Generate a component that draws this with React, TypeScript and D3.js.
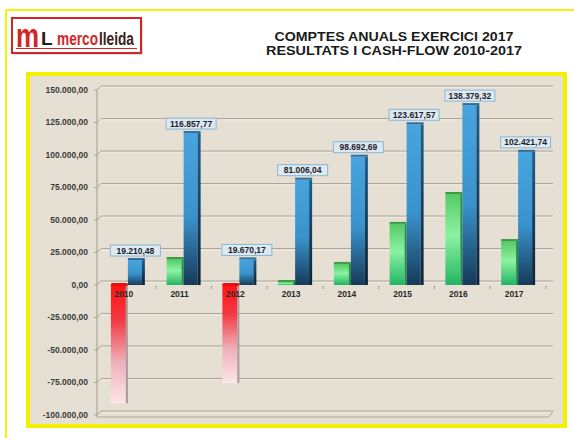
import * as d3 from 'd3';

const years = ['2010', '2011', '2012', '2013', '2014', '2015', '2016', '2017'];
// resultats (green / red bars)
const resultats = [-91000, 20000, -75500, 2300, 16200, 47000, 70000, 33800];
// cash-flow (blue bars), as labelled
const cashFlow = [19210.48, 116857.77, 19670.17, 81006.04, 98692.69, 123617.57, 138379.32, 102421.74];
const yTicks = [-100000, -75000, -50000, -25000, 0, 25000, 50000, 75000, 100000, 125000, 150000];
const titleLines = ['COMPTES ANUALS EXERCICI 2017', 'RESULTATS I CASH-FLOW 2010-2017'];

const W = 574;
const H = 438;
const BAR_W = 17;
const FONT = '"Liberation Sans", Arial, sans-serif';

const locale = d3.formatLocale({
  decimal: ',',
  thousands: '.',
  grouping: [3],
  currency: ['', ''],
  minus: '-',
});
const fmt = locale.format(',.2f');

export default function App() {
  const y = d3.scaleLinear().domain([-100000, 150000]).range([415, 90]);
  const x = d3.scaleBand().domain(years).range([100, 546]).padding(0);
  const axisX = 97;
  const gridRight = 553;
  const depth = 4;

  const cx = (yr: string) => (x(yr) ?? 0) + x.bandwidth() / 2;

  return (
    <svg
      width={W}
      height={H}
      style={{ position: 'absolute', left: 0, top: 0, background: '#fff' }}
      fontFamily={FONT}
    >
      <defs>
        <linearGradient id="blueG" x1="0" y1="0" x2="0" y2="1">
          <stop offset="0%" stopColor="#48a4de" />
          <stop offset="55%" stopColor="#3a92cc" />
          <stop offset="100%" stopColor="#163a58" />
        </linearGradient>
        <linearGradient id="blueSide" x1="0" y1="0" x2="0" y2="1">
          <stop offset="0%" stopColor="#1f5f8e" />
          <stop offset="100%" stopColor="#0d2236" />
        </linearGradient>
        <linearGradient id="greenG" x1="0" y1="0" x2="0" y2="1">
          <stop offset="0%" stopColor="#55c965" />
          <stop offset="45%" stopColor="#8cf2a2" />
          <stop offset="100%" stopColor="#22b562" />
        </linearGradient>
        <linearGradient id="redG" x1="0" y1="0" x2="0" y2="1">
          <stop offset="0%" stopColor="#ff1414" />
          <stop offset="30%" stopColor="#f23a44" />
          <stop offset="65%" stopColor="#eeb0ba" />
          <stop offset="100%" stopColor="#fde6e6" />
        </linearGradient>
      </defs>

      {/* outer frame */}
      <line x1={6} y1={10} x2={W} y2={10} stroke="#f4f400" strokeWidth={2} />
      <line x1={6} y1={10} x2={6} y2={H} stroke="#f4f400" strokeWidth={2} />

      {/* logo */}
      <g>
        <rect x={14} y={20} width={129} height={35} fill="#9a9a9a" opacity={0.35} />
        <rect x={12} y={18} width={129} height={35} fill="#fff" stroke="#d42525" strokeWidth={2} />
        <text transform="translate(16,47) scale(1.3,1.7)" fontSize={20} fontWeight="bold" fill="#d42525">
          m
        </text>
        <text x={41} y={45} fontSize={19} fontWeight="bold" fill="#2a1a1a">L</text>
        <text transform="translate(57,45) scale(0.72,1)" fontSize={19} fontWeight="bold" fill="#d42525">
          merco
        </text>
        <text transform="translate(99,45) scale(0.72,1)" fontSize={19} fontWeight="bold" fill="#3a2020">
          lleida
        </text>
        <line x1={16} y1={48.5} x2={137} y2={48.5} stroke="#d42525" strokeWidth={1.2} />
      </g>

      {/* title */}
      {titleLines.map((t, i) => (
        <text
          key={t}
          x={394}
          y={41 + i * 14}
          textAnchor="middle"
          fontSize={12.5}
          fontWeight="bold"
          fill="#1a1a1a"
          textLength={i === 0 ? 239 : 256}
          lengthAdjust="spacingAndGlyphs"
        >
          {t}
        </text>
      ))}

      {/* panel */}
      <rect x={28} y={74} width={537} height={352} fill="#e6e0d4" stroke="#f2f200" strokeWidth={4} />

      {/* back wall gridlines */}
      {yTicks.map((v) => (
        <g key={v}>
          <line x1={axisX + depth} y1={y(v) - depth} x2={gridRight} y2={y(v) - depth} stroke="#aaa49a" strokeWidth={1.2} />
          <line x1={axisX + depth} y1={y(v) - depth + 1.5} x2={gridRight} y2={y(v) - depth + 1.5} stroke="#f2eee6" strokeWidth={0.8} />
          <line x1={axisX} y1={y(v)} x2={axisX + depth} y2={y(v) - depth} stroke="#aaa49a" strokeWidth={1} />
          <line x1={axisX - 3} y1={y(v)} x2={axisX} y2={y(v)} stroke="#aaa49a" strokeWidth={1} />
          <text
            x={88}
            y={y(v)}
            dy="0.35em"
            textAnchor="end"
            fontSize={8.5}
            fontWeight="bold"
            fill="#3a3a3a"
          >
            {fmt(v)}
          </text>
        </g>
      ))}
      {/* floor */}
      <line x1={axisX} y1={y(-100000) + 2} x2={gridRight - 4} y2={y(-100000) + 2} stroke="#aaa49a" strokeWidth={1.2} />
      <line x1={gridRight - 4} y1={y(-100000) + 2} x2={gridRight} y2={y(-100000) - depth} stroke="#aaa49a" strokeWidth={1} />
      {/* value axis */}
      <line x1={axisX} y1={y(150000)} x2={axisX} y2={y(-100000) + 2} stroke="#aaa49a" strokeWidth={1.2} />

      {/* category axis ticks */}
      {years.map((yr) => (
        <line
          key={yr}
          x1={(x(yr) ?? 0) + x.bandwidth()}
          y1={y(0) + 1}
          x2={(x(yr) ?? 0) + x.bandwidth()}
          y2={y(0) + 4}
          stroke="#9a948a"
          strokeWidth={1}
        />
      ))}

      {/* bars */}
      {years.map((yr, i) => {
        const c = cx(yr);
        const r = resultats[i];
        const cf = cashFlow[i];
        const rTop = y(Math.max(0, r));
        const rBot = y(Math.min(0, r));
        const cfTop = y(cf);
        const neg = r < 0;
        return (
          <g key={yr}>
            {/* resultats */}
            <rect x={c - BAR_W} y={rTop} width={BAR_W - 2} height={rBot - rTop} fill={neg ? 'url(#redG)' : 'url(#greenG)'} />
            <rect x={c - 2} y={rTop} width={2} height={rBot - rTop} fill={neg ? '#a89a9a' : '#1f8f48'} />
            {!neg && (
              <rect x={c - BAR_W} y={rTop - 2} width={BAR_W} height={2} fill="#3f9a45" />
            )}
            {neg && <rect x={c - BAR_W} y={rTop - 2} width={BAR_W} height={3} rx={1.5} fill="#e80f0f" />}
            {/* cash-flow */}
            <rect x={c} y={cfTop} width={BAR_W - 3} height={y(0) - cfTop} fill="url(#blueG)" />
            <rect x={c + BAR_W - 3} y={cfTop} width={3} height={y(0) - cfTop} fill="url(#blueSide)" />
            <rect x={c} y={cfTop - 2} width={BAR_W} height={2} fill="#2d6d9c" />
          </g>
        );
      })}

      {/* category labels */}
      {years.map((yr) => (
        <text
          key={yr}
          x={cx(yr) - 4}
          y={y(0) + 12}
          textAnchor="middle"
          fontSize={8.5}
          fontWeight="bold"
          fill="#2a2a2a"
        >
          {yr}
        </text>
      ))}

      {/* value labels */}
      {years.map((yr, i) => {
        const c = cx(yr) + BAR_W / 2 - 1;
        const top = y(cashFlow[i]) - 4;
        const label = fmt(cashFlow[i]);
        const bw = 50;
        return (
          <g key={yr}>
            <rect x={c - bw / 2} y={top - 11} width={bw} height={11} fill="#dde8ef" stroke="#8ab6d4" strokeWidth={1} />
            <text x={c} y={top - 5.5} dy="0.35em" textAnchor="middle" fontSize={8.5} fontWeight="bold" fill="#1c1c2c">
              {label}
            </text>
          </g>
        );
      })}
    </svg>
  );
}
